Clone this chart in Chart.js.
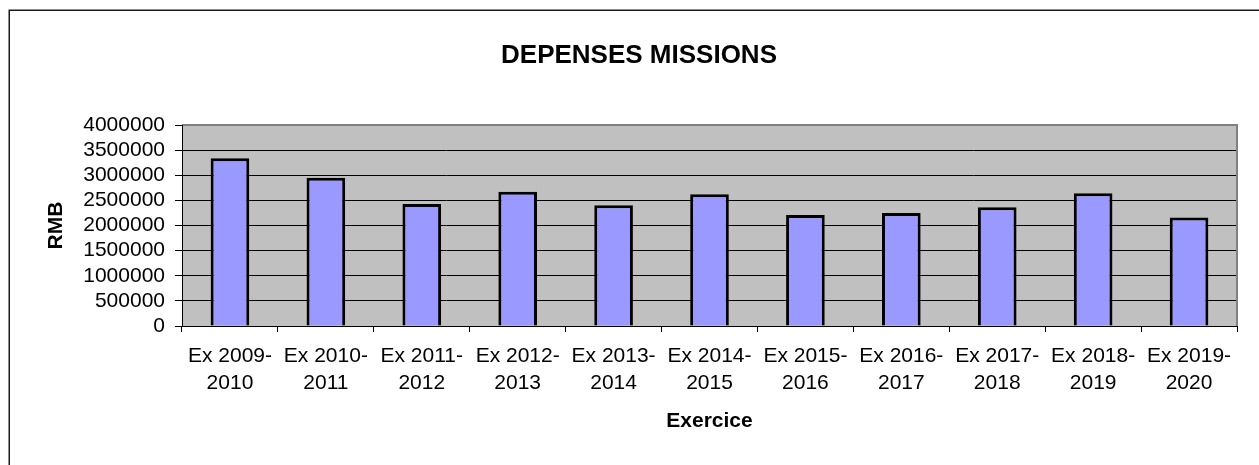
<!DOCTYPE html>
<html>
<head>
<meta charset="utf-8">
<script src="https://cdn.jsdelivr.net/npm/chart.js@4/dist/chart.umd.min.js"></script>
<style>
  html, body { margin: 0; padding: 0; background: #fff; overflow: hidden; }
  #wrap { position: relative; width: 1259px; height: 465px; }
</style>
</head>
<body>
<div id="wrap"><canvas id="c" width="1259" height="465" style="width:1259px;height:465px"></canvas></div>
<script>
const categories = [
  ['Ex 2009-', '2010'], ['Ex 2010-', '2011'], ['Ex 2011-', '2012'], ['Ex 2012-', '2013'],
  ['Ex 2013-', '2014'], ['Ex 2014-', '2015'], ['Ex 2015-', '2016'], ['Ex 2016-', '2017'],
  ['Ex 2017-', '2018'], ['Ex 2018-', '2019'], ['Ex 2019-', '2020']
];
const depenses = [3340000, 2950000, 2430000, 2670000, 2405000, 2620000, 2210000, 2250000, 2365000, 2640000, 2160000];
const yMin = 0;
const yMax = 4000000;
const yStep = 500000;
const chartTitle = 'DEPENSES MISSIONS';
const yTitle = 'RMB';
const xTitle = 'Exercice';

const FONT = '"Liberation Sans", Arial, sans-serif';
Chart.defaults.color = '#000';
Chart.defaults.font.family = FONT;

const decor = {
  id: 'decor',
  afterLayout(chart) {
    if (chart.titleBlock) {
      chart.titleBlock.left = 19;
      chart.titleBlock.right = 1259;
    }
  },
  beforeDraw(chart) {
    const ctx = chart.ctx;
    const a = chart.chartArea;
    ctx.save();
    ctx.fillStyle = '#ffffff';
    ctx.fillRect(0, 0, chart.width, chart.height);
    ctx.fillStyle = '#C0C0C0';
    ctx.fillRect(a.left, a.top, a.right - a.left, a.bottom - a.top);
    ctx.strokeStyle = '#1a1a1a';
    ctx.lineWidth = 1.5;
    ctx.strokeRect(9.25, 10.25, 1400, 1000);
    ctx.restore();
  },
  afterDraw(chart) {
    const ctx = chart.ctx;
    const a = chart.chartArea;
    ctx.save();
    ctx.strokeStyle = '#808080';
    ctx.lineWidth = 2;
    ctx.beginPath();
    ctx.moveTo(a.left, a.top);
    ctx.lineTo(a.right, a.top);
    ctx.lineTo(a.right, a.bottom);
    ctx.stroke();
    ctx.strokeStyle = '#000';
    ctx.lineWidth = 1;
    ctx.beginPath();
    ctx.moveTo(Math.round(a.left) + 0.5, a.top);
    ctx.lineTo(Math.round(a.left) + 0.5, a.bottom);
    ctx.stroke();
    ctx.restore();
  }
};

new Chart(document.getElementById('c'), {
  type: 'bar',
  data: {
    labels: categories,
    datasets: [{
      data: depenses,
      backgroundColor: '#9999FF',
      borderColor: '#000000',
      borderWidth: 3,
      categoryPercentage: 1,
      barPercentage: 0.403
    }]
  },
  options: {
    responsive: false,
    animation: false,
    devicePixelRatio: 1,
    layout: { padding: { left: 0, right: 22, top: 0, bottom: 0 } },
    plugins: {
      legend: { display: false },
      tooltip: { enabled: false },
      title: {
        display: true,
        text: chartTitle,
        font: { family: FONT, size: 26, weight: 'bold', lineHeight: 1.2 },
        color: '#000',
        padding: { top: 40, bottom: 53.8 }
      }
    },
    scales: {
      x: {
        grid: { drawOnChartArea: false, drawTicks: true, tickLength: 6, color: '#000', offset: true },
        border: { display: true, color: '#000', width: 1 },
        ticks: {
          font: { family: FONT, size: 21, lineHeight: 1.27 },
          color: '#000',
          padding: 11,
          maxRotation: 0,
          autoSkip: false
        },
        title: {
          display: true,
          text: xTitle,
          font: { family: FONT, size: 21, weight: 'bold', lineHeight: 1.2 },
          color: '#000',
          padding: { top: 0, bottom: 31 }
        },
        afterFit(scale) { scale.height = 139; }
      },
      y: {
        min: yMin,
        max: yMax,
        grid: { color: '#000', lineWidth: 1, drawTicks: true, tickLength: 7 },
        border: { display: true, color: '#000', width: 1 },
        ticks: {
          stepSize: yStep,
          autoSkip: false,
          font: { family: FONT, size: 21, lineHeight: 1 },
          color: '#000',
          padding: 10,
          callback: (v) => String(v)
        },
        afterBuildTicks(scale) {
          scale.ticks = [];
          for (let v = yMin; v <= yMax; v += yStep) scale.ticks.push({ value: v });
        },
        title: {
          display: true,
          text: yTitle,
          font: { family: FONT, size: 21, weight: 'bold', lineHeight: 1.2 },
          color: '#000',
          padding: { top: 44, bottom: 0 }
        },
        afterFit(scale) { scale.width = 182; }
      }
    }
  },
  plugins: [decor]
});
</script>
</body>
</html>
